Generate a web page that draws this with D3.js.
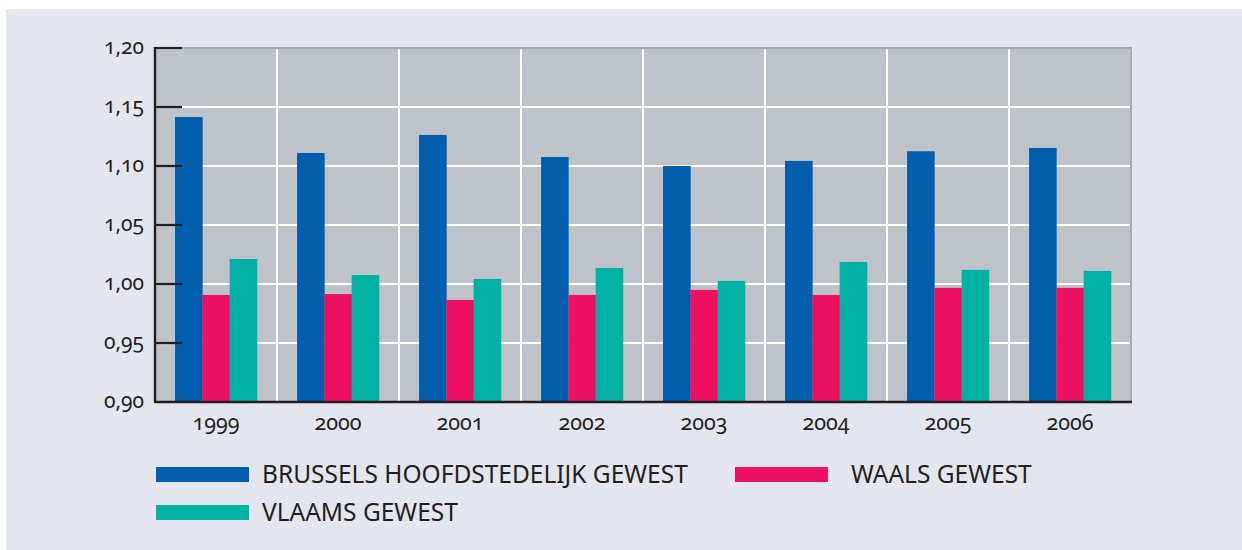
<!DOCTYPE html>
<html>
<head>
<meta charset="utf-8">
<script src="https://cdn.jsdelivr.net/npm/d3@7"></script>
<style>
  html, body { margin: 0; padding: 0; background: #fff; }
  svg { display: block; }
  text { font-family: 'Noto Sans', sans-serif; fill: #231f20; font-variant-numeric: oldstyle-nums; font-feature-settings: 'onum' 1; }
</style>
</head>
<body>
<div id="chart"></div>
<script>
let years = ['1999', '2000', '2001', '2002', '2003', '2004', '2005', '2006']
let series = ['BRUSSELS HOOFDSTEDELIJK GEWEST', 'WAALS GEWEST', 'VLAAMS GEWEST']
let brussels = [1.1415, 1.111, 1.1263, 1.1076, 1.1, 1.1043, 1.1125, 1.1153]
let waals = [0.9907, 0.9915, 0.9865, 0.9907, 0.995, 0.9907, 0.9967, 0.9967]
let vlaams = [1.0212, 1.0076, 1.0043, 1.0136, 1.0026, 1.0187, 1.012, 1.0111]
let yTicks = [0.90, 0.95, 1.00, 1.05, 1.10, 1.15, 1.20]
let colors = ['#005eac', '#ee1163', '#00b2a5']

let W = 1242
let H = 550
let plot = { left: 155, top: 48, right: 1131, bottom: 402 }

let svg = d3.select('#chart').append('svg')
  .attr('width', W)
  .attr('height', H)

// panel background
svg.append('rect')
  .attr('x', 6).attr('y', 9)
  .attr('width', W - 6).attr('height', H - 9)
  .attr('fill', '#e3e6ee')

let x = d3.scaleBand().domain(years).range([plot.left, plot.right])
let xSub = d3.scaleBand().domain(d3.range(3)).range([0, x.bandwidth()])
  .paddingInner(0).paddingOuter(0.735)
let y = d3.scaleLinear().domain([0.90, 1.20]).range([plot.bottom, plot.top])

// plot area
svg.append('rect')
  .attr('x', plot.left).attr('y', plot.top)
  .attr('width', plot.right - plot.left).attr('height', plot.bottom - plot.top)
  .attr('fill', '#bec2c9')

// grid
svg.append('g').selectAll('line')
  .data(yTicks.slice(1, -1))
  .join('line')
  .attr('x1', plot.left).attr('x2', plot.right)
  .attr('y1', (d) => y(d)).attr('y2', (d) => y(d))
  .attr('stroke', '#fff').attr('stroke-width', 2)

svg.append('g').selectAll('line')
  .data(years.slice(1))
  .join('line')
  .attr('x1', (d) => x(d)).attr('x2', (d) => x(d))
  .attr('y1', plot.top).attr('y2', plot.bottom)
  .attr('stroke', '#fff').attr('stroke-width', 2)

// top and right border
svg.append('path')
  .attr('d', 'M' + plot.left + ',' + plot.top + 'H' + plot.right + 'V' + plot.bottom)
  .attr('fill', 'none').attr('stroke', '#a6a9ad').attr('stroke-width', 2)

// bars
let rows = years.map((yr, i) => ({ year: yr, values: [brussels[i], waals[i], vlaams[i]] }))
let groups = svg.append('g').selectAll('g')
  .data(rows)
  .join('g')
  .attr('transform', (d) => 'translate(' + x(d.year) + ',0)')

groups.selectAll('rect')
  .data((d) => d.values.map((v, k) => ({ k: k, v: v })))
  .join('rect')
  .attr('x', (d) => xSub(d.k))
  .attr('width', xSub.bandwidth() + 0.3)
  .attr('y', (d) => y(d.v))
  .attr('height', (d) => y(0.90) - y(d.v))
  .attr('fill', (d) => colors[d.k])

// axes
svg.append('line')
  .attr('x1', plot.left).attr('x2', plot.left)
  .attr('y1', plot.top - 1).attr('y2', plot.bottom + 1)
  .attr('stroke', '#231f20').attr('stroke-width', 2.4)
svg.append('line')
  .attr('x1', plot.left).attr('x2', plot.right + 1)
  .attr('y1', plot.bottom).attr('y2', plot.bottom)
  .attr('stroke', '#231f20').attr('stroke-width', 2.4)

// inner ticks
svg.append('g').selectAll('line')
  .data(yTicks.slice(1))
  .join('line')
  .attr('x1', plot.left).attr('x2', plot.left + 27)
  .attr('y1', (d) => y(d)).attr('y2', (d) => y(d))
  .attr('stroke', '#231f20').attr('stroke-width', 2.2)

// y labels
let fmt = (d) => d3.format('.2f')(d).replace('.', ',')
svg.append('g').selectAll('text')
  .data(yTicks)
  .join('text')
  .attr('x', 144)
  .attr('y', (d) => y(d))
  .attr('dy', 6)
  .attr('text-anchor', 'end')
  .attr('font-size', 21)
  .text(fmt)

// x labels
svg.append('g').selectAll('text')
  .data(years)
  .join('text')
  .attr('x', (d) => x(d) + x.bandwidth() / 2)
  .attr('y', 430)
  .attr('text-anchor', 'middle')
  .attr('font-size', 21.5)
  .text((d) => d)

// legend
let legendPos = [
  { x: 156, y: 467, tx: 262 },
  { x: 735, y: 467, tx: 851 },
  { x: 156, y: 505, tx: 262 }
]
let legend = svg.append('g').selectAll('g')
  .data(series)
  .join('g')

legend.append('rect')
  .attr('x', (d, i) => legendPos[i].x)
  .attr('y', (d, i) => legendPos[i].y)
  .attr('width', 93).attr('height', 15)
  .attr('fill', (d, i) => colors[i])

legend.append('text')
  .attr('x', (d, i) => legendPos[i].tx)
  .attr('y', (d, i) => legendPos[i].y + 16)
  .attr('font-size', 24.5)
  .text((d) => d)
</script>
</body>
</html>
